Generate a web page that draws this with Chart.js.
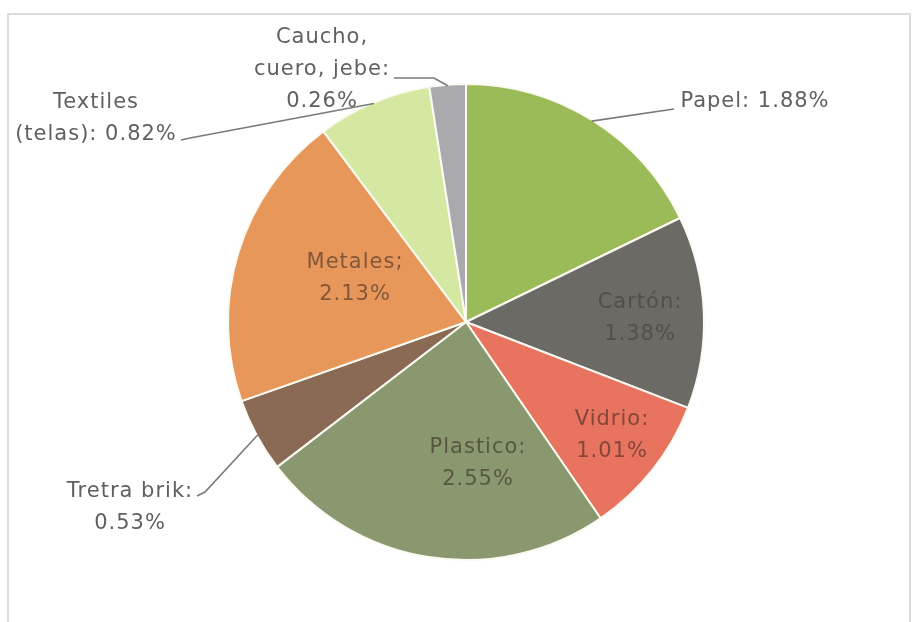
<!DOCTYPE html>
<html lang="es">
<head>
<meta charset="UTF-8">
<title>Composición de residuos</title>
<script src="https://cdn.jsdelivr.net/npm/chart.js"></script>
<style>
    html, body { margin: 0; padding: 0; background: #fff; }
    .wrap { position: relative; width: 914px; height: 622px; overflow: hidden; }
    .frame { position: absolute; left: 7px; top: 13px; width: 900px; height: 700px; border: 2px solid #dcdcdc; }
    #pieChart { position: absolute; left: 0; top: 0; }
</style>
</head>
<body>
<div class="wrap">
    <div class="frame"></div>
    <canvas id="pieChart" width="914" height="622"></canvas>
</div>
<script>
const categories = ['Papel', 'Cartón', 'Vidrio', 'Plastico', 'Tretra brik', 'Metales', 'Textiles (telas)', 'Caucho, cuero, jebe'];
const values = [1.88, 1.38, 1.01, 2.55, 0.53, 2.13, 0.82, 0.26];
const sliceColors = ['#9bbb59', '#6b6a65', '#e8735f', '#8a9870', '#8a6a55', '#e8975b', '#d5e8a2', '#a9a9ae'];
// label text per slice, {v} gets the value
const labelLines = [
    ['Papel: {v}'],
    ['Cartón:', '{v}'],
    ['Vidrio:', '{v}'],
    ['Plastico:', '{v}'],
    ['Tretra brik:', '{v}'],
    ['Metales;', '{v}'],
    ['Textiles', '(telas): {v}'],
    ['Caucho,', 'cuero, jebe:', '{v}']
];

// where each label sits; leader = elbow points going from the label back to the slice
const labelLayout = [
    { x: 755, y: 102, color: '#606060', leader: [[674, 109]] },
    { x: 640, y: 303, color: 'rgba(50, 48, 44, 0.45)' },
    { x: 612, y: 420, color: 'rgba(45, 35, 28, 0.55)' },
    { x: 478, y: 448, color: 'rgba(45, 35, 28, 0.55)' },
    { x: 130, y: 492, color: '#606060', leader: [[197, 496], [205, 492]] },
    { x: 355, y: 263, color: 'rgba(45, 35, 28, 0.55)' },
    { x: 96, y: 103, color: '#606060', leader: [[181, 140], [190, 138]] },
    { x: 322, y: 38, color: '#606060', leader: [[394, 78], [434, 78]] }
];

const LINE_H = 32;

const sliceLabels = {
    id: 'sliceLabels',
    afterDatasetsDraw(chart) {
        const ctx = chart.ctx;
        const arcs = chart.getDatasetMeta(0).data;
        ctx.save();
        ctx.font = '21px "DejaVu Sans", sans-serif';
        ctx.letterSpacing = '1px';
        ctx.textAlign = 'center';
        ctx.textBaseline = 'middle';

        arcs.forEach((arc, i) => {
            const lay = labelLayout[i];
            const p = arc.getProps(['x', 'y', 'startAngle', 'endAngle', 'outerRadius'], true);
            if (lay.leader) {
                const mid = (p.startAngle + p.endAngle) / 2;
                const r = p.outerRadius - 1;
                ctx.beginPath();
                ctx.moveTo(p.x + Math.cos(mid) * r, p.y + Math.sin(mid) * r);
                lay.leader.slice().reverse().forEach(pt => ctx.lineTo(pt[0], pt[1]));
                ctx.strokeStyle = '#7a7a7a';
                ctx.lineWidth = 1.6;
                ctx.stroke();
            }
            ctx.fillStyle = lay.color;
            const txt = labelLines[i].map(s => s.replace('{v}', values[i].toFixed(2) + '%'));
            txt.forEach((line, k) => ctx.fillText(line, lay.x, lay.y + k * LINE_H));
        });
        ctx.restore();
    }
};

new Chart(document.getElementById('pieChart'), {
    type: 'pie',
    data: {
        labels: categories,
        datasets: [{
            data: values,
            backgroundColor: sliceColors,
            borderColor: '#fbfaf2',
            borderWidth: 2
        }]
    },
    options: {
        responsive: false,
        animation: false,
        layout: { padding: { top: 83, bottom: 61, left: 100, right: 82 } },
        plugins: {
            legend: { display: false },
            tooltip: { enabled: false }
        }
    },
    plugins: [sliceLabels]
});
</script>
</body>
</html>
